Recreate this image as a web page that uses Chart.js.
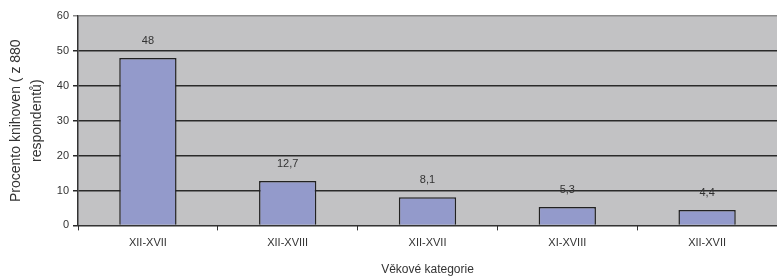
<!DOCTYPE html>
<html>
<head>
<meta charset="utf-8">
<script src="https://cdn.jsdelivr.net/npm/chart.js@4"></script>
<style>
  html, body { margin: 0; padding: 0; background: #fff; }
  #wrap { width: 777px; height: 277px; }
</style>
</head>
<body>
<div id="wrap"><canvas id="vekChart"></canvas></div>
<script>
const categories = ['XII-XVII', 'XII-XVIII', 'XII-XVII', 'XI-XVIII', 'XII-XVII'];
const values = [48, 12.7, 8.1, 5.3, 4.4];
const yTicks = [0, 10, 20, 30, 40, 50, 60];

const plotBg = {
    id: 'plotBg',
    beforeDraw(chart) {
        const { ctx, chartArea: a } = chart;
        ctx.save();
        ctx.fillStyle = '#c2c2c4';
        ctx.fillRect(a.left, a.top, a.right - a.left, a.bottom - a.top);
        ctx.restore();
    }
};

const valueLabels = {
    id: 'valueLabels',
    afterDatasetsDraw(chart) {
        const { ctx } = chart;
        const meta = chart.getDatasetMeta(0);
        ctx.save();
        ctx.font = '11px "Liberation Sans", Arial, sans-serif';
        ctx.fillStyle = '#333';
        ctx.textAlign = 'center';
        ctx.textBaseline = 'middle';
        meta.data.forEach((bar, i) => {
            ctx.fillText(String(values[i]).replace('.', ','), bar.x, bar.y - 17);
        });
        ctx.restore();
    }
};

new Chart(document.getElementById('vekChart'), {
    type: 'bar',
    data: {
        labels: categories,
        datasets: [{
            data: values,
            backgroundColor: '#939acb',
            borderColor: '#222',
            borderWidth: 1.5,
            categoryPercentage: 1,
            barPercentage: 0.41
        }]
    },
    options: {
        responsive: true,
        maintainAspectRatio: false,
        animation: false,
        devicePixelRatio: 1,
        layout: { padding: { top: 16, right: 0, bottom: 0, left: 0 } },
        plugins: { legend: { display: false }, tooltip: { enabled: false } },
        scales: {
            x: {
                grid: { offset: true, drawOnChartArea: false, tickLength: 5, color: '#333' },
                border: { color: '#333' },
                ticks: { color: '#333', font: { family: '"Liberation Sans", Arial', size: 11 }, padding: 6 },
                title: {
                    display: true, text: 'Věkové kategorie', color: '#333',
                    font: { family: '"Liberation Sans", Arial', size: 12 }, padding: { top: 7, bottom: 0 }
                }
            },
            y: {
                min: 0, max: 60,
                afterBuildTicks(scale) { scale.ticks = yTicks.map(v => ({ value: v })); },
                afterFit(scale) { scale.width = 78; },
                grid: {
                    tickLength: 5,
                    lineWidth: 1.5,
                    color: c => (c.tick && c.tick.value === 60 ? '#8a8a8a' : '#2a2a2a')
                },
                border: { color: '#333', width: 1.5 },
                ticks: { color: '#333', font: { family: '"Liberation Sans", Arial', size: 11 }, padding: 4 },
                title: {
                    display: true, text: ['Procento knihoven ( z 880', 'respondentů)'], color: '#333',
                    font: { family: '"Liberation Sans", Arial', size: 14, lineHeight: 1.5 }, padding: { top: 6, bottom: 0 }
                }
            }
        }
    },
    plugins: [plotBg, valueLabels]
});
</script>
</body>
</html>
